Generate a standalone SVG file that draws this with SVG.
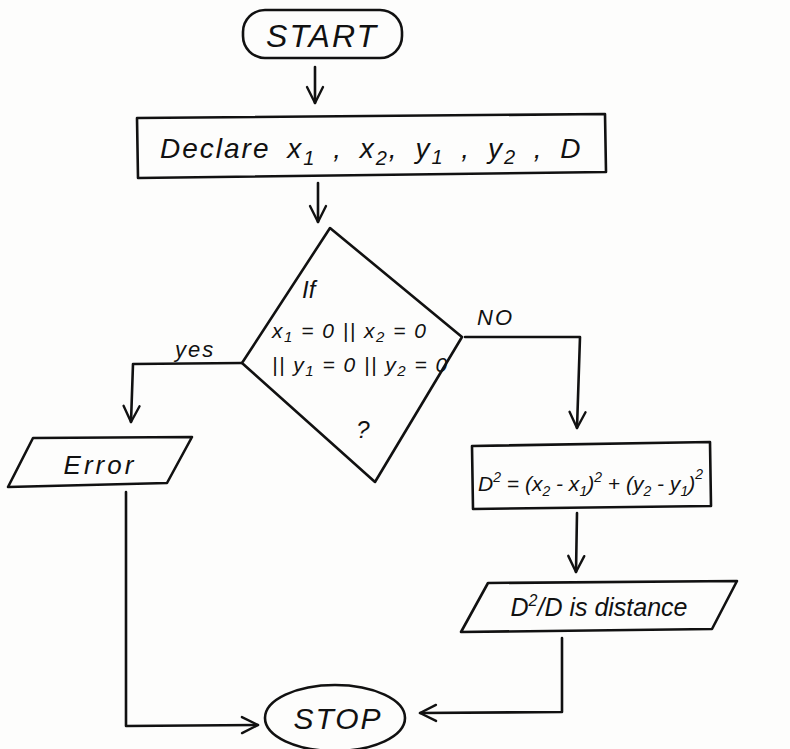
<svg xmlns="http://www.w3.org/2000/svg" width="790" height="749" viewBox="0 0 790 749">
<defs>
<marker id="arr" viewBox="0 0 20 20" refX="18" refY="10" markerWidth="20" markerHeight="20" markerUnits="userSpaceOnUse" orient="auto">
<path d="M2,2 L18,10 L2,18" fill="none" stroke="#111" stroke-width="2.4" stroke-linecap="round" stroke-linejoin="round"/>
</marker>
<style>
.s{fill:none;stroke:#111;stroke-width:2.6;stroke-linejoin:round;stroke-linecap:round}
.t{font-family:"Liberation Sans",Arial,sans-serif;font-style:italic;fill:#111}
.c{stroke:#111;stroke-width:2.6;fill:none;stroke-linejoin:round;stroke-linecap:round}
</style>
</defs>
<rect width="790" height="749" fill="#fdfdfc"/>

<g id="start">
<rect class="s" x="243" y="10" width="159" height="48" rx="22"/>
<text class="t" x="322" y="47" font-size="32" text-anchor="middle" letter-spacing="2">START</text>
</g>

<g id="declare">
<polygon class="s" points="137,118 605,114 606,172 138,178"/>
<text class="t" x="160" y="158" font-size="28" letter-spacing="2" word-spacing="7">Declare  x<tspan dy="7" font-size="20">1</tspan><tspan dy="-7"> , x</tspan><tspan dy="7" font-size="20">2</tspan><tspan dy="-7">, y</tspan><tspan dy="6" font-size="20">1</tspan><tspan dy="-6"> , y</tspan><tspan dy="6" font-size="20">2</tspan><tspan dy="-6"> ,  D</tspan></text>
</g>

<g id="decision">
<polygon class="s" points="330,228 462,337 375,482 242,363"/>
<text class="t" x="302" y="298" font-size="24">If</text>
<text class="t" x="272" y="338" font-size="21" letter-spacing="1.5">x<tspan dy="4" font-size="15">1</tspan><tspan dy="-4"> = 0 || x</tspan><tspan dy="4" font-size="15">2</tspan><tspan dy="-4"> = 0</tspan></text>
<text class="t" x="272" y="372" font-size="21" letter-spacing="1.5">|| y<tspan dy="4" font-size="15">1</tspan><tspan dy="-4"> = 0 || y</tspan><tspan dy="4" font-size="15">2</tspan><tspan dy="-4"> = 0</tspan></text>
<text class="t" x="363" y="438" font-size="24" text-anchor="middle">?</text>
</g>

<g id="error">
<polygon class="s" points="33,438 192,437 167,483 8,487"/>
<text class="t" x="100" y="474" font-size="26" text-anchor="middle" letter-spacing="3">Error</text>
</g>

<g id="compute">
<polygon class="s" points="472,446 710,442 711,506 473,509"/>
<text class="t" x="478" y="491" font-size="21">D<tspan dy="-9" font-size="14">2</tspan><tspan dy="9"> = (x</tspan><tspan dy="5" font-size="14">2</tspan><tspan dy="-5"> - x</tspan><tspan dy="5" font-size="14">1</tspan><tspan dy="-5">)</tspan><tspan dy="-9" font-size="14">2</tspan><tspan dy="9"> + (y</tspan><tspan dy="5" font-size="14">2</tspan><tspan dy="-5"> - y</tspan><tspan dy="5" font-size="14">1</tspan><tspan dy="-5">)</tspan><tspan dy="-12" font-size="14">2</tspan></text>
</g>

<g id="output">
<polygon class="s" points="488,583 737,581 712,629 461,632"/>
<text class="t" x="599" y="616" font-size="25" text-anchor="middle">D<tspan dy="-10" font-size="16">2</tspan><tspan dy="10">/D is distance</tspan></text>
</g>

<g id="stop">
<ellipse class="s" cx="335" cy="718" rx="70" ry="33"/>
<text class="t" x="338" y="729" font-size="30" text-anchor="middle" letter-spacing="2">STOP</text>
</g>

<g id="connectors">
<path class="c" d="M315,67 L315,103" marker-end="url(#arr)"/>
<path class="c" d="M318,183 L318,222" marker-end="url(#arr)"/>
<path class="c" d="M242,363 L133,364 L131,422" marker-end="url(#arr)"/>
<path class="c" d="M465,337 L580,337 L577,428" marker-end="url(#arr)"/>
<path class="c" d="M577,513 L576,572" marker-end="url(#arr)"/>
<path class="c" d="M126,492 L126,726 L258,725" marker-end="url(#arr)"/>
<path class="c" d="M562,638 L562,712 L420,713" marker-end="url(#arr)"/>
<text class="t" x="175" y="357" font-size="22" letter-spacing="2">yes</text>
<text class="t" x="477" y="325" font-size="22" letter-spacing="2">NO</text>
</g>
</svg>
